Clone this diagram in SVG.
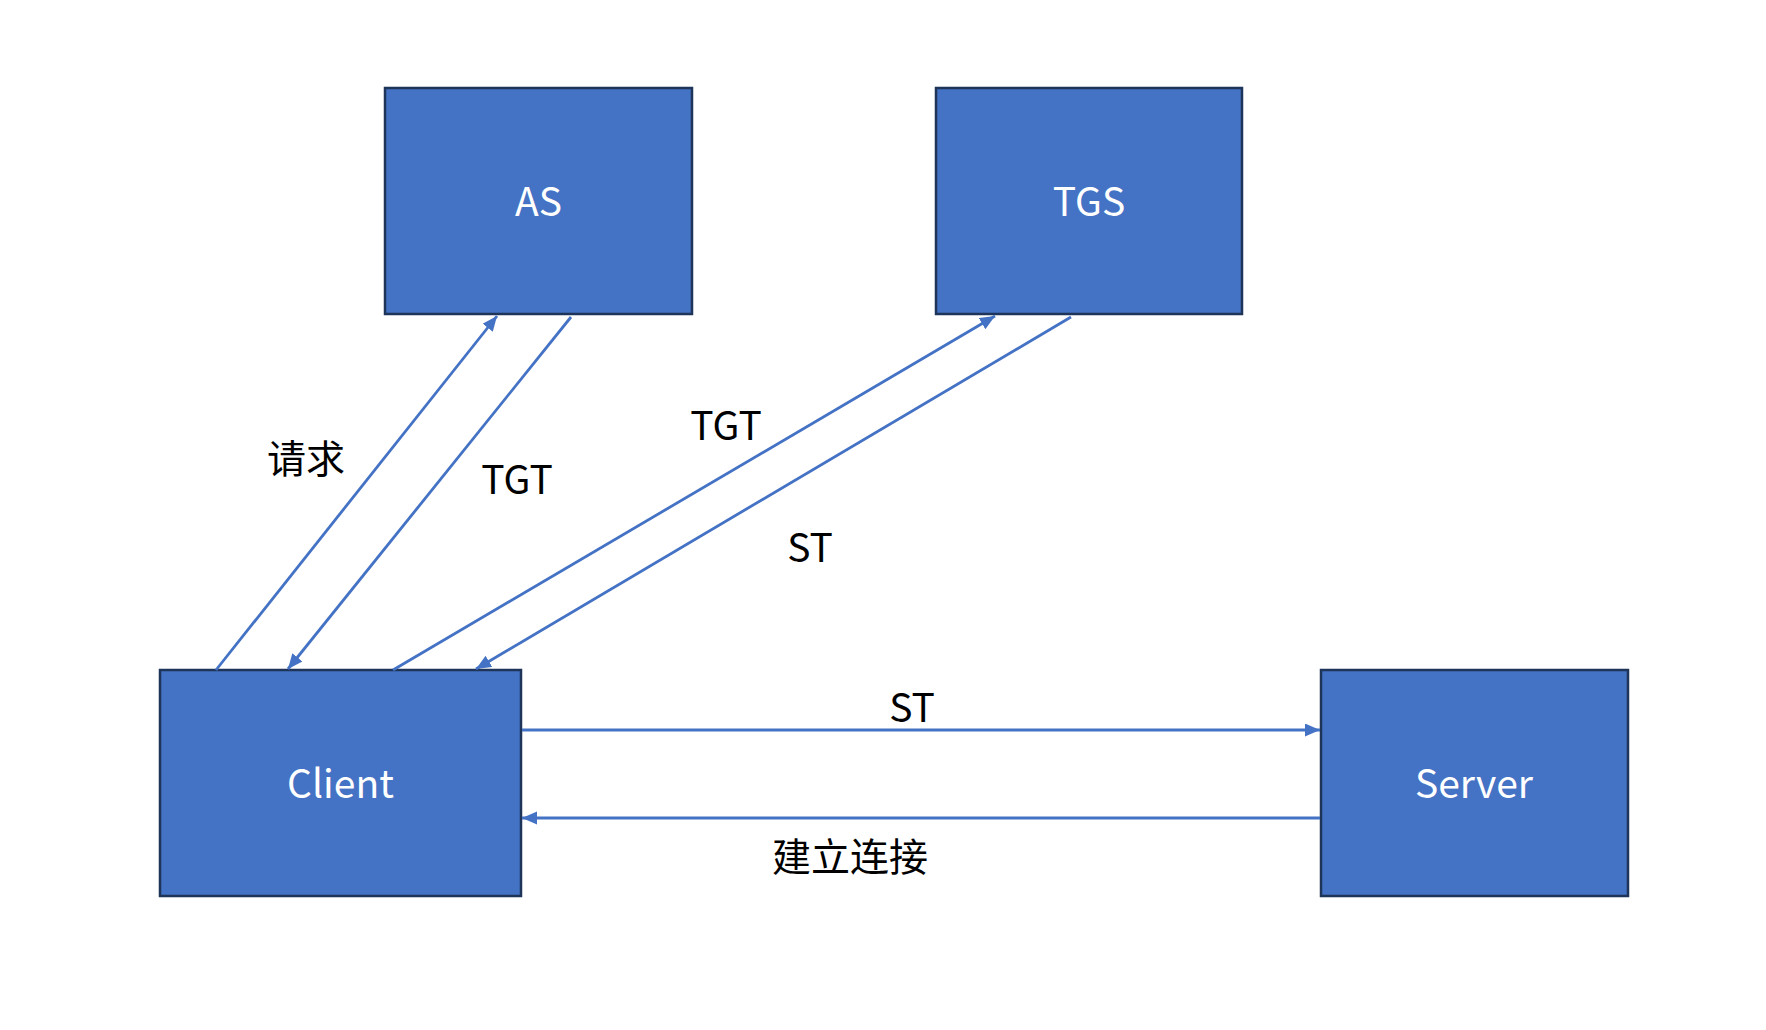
<svg xmlns="http://www.w3.org/2000/svg" width="1766" height="1030" viewBox="0 0 1766 1030">
<style>
.box{fill:#4472C4;stroke:#1F3459;stroke-width:2.5}
.lbl{font-family:"Noto Sans CJK SC","Noto Sans",sans-serif;font-size:39px;fill:#FFFFFF;text-anchor:middle}
.edge{stroke:#4472C4;stroke-width:2.8;fill:none}
.etxt{font-family:"Noto Sans CJK SC","Noto Sans",sans-serif;font-size:39px;fill:#000000;text-anchor:middle}
</style>
<defs>
<marker id="ah" markerUnits="userSpaceOnUse" markerWidth="16" markerHeight="14" refX="15" refY="6.5" orient="auto">
<path d="M0,0 L15,6.5 L0,13 z" fill="#4472C4"/>
</marker>
</defs>
<rect width="1766" height="1030" fill="#FFFFFF"/>
<g id="AS"><rect class="box" x="385" y="88" width="307" height="226"/><text class="lbl" x="538.5" y="216">AS</text></g>
<g id="TGS"><rect class="box" x="936" y="88" width="306" height="226"/><text class="lbl" x="1089" y="216">TGS</text></g>
<g id="Client"><rect class="box" x="160" y="670" width="361" height="226"/><text class="lbl" x="340.5" y="798">Client</text></g>
<g id="Server"><rect class="box" x="1321" y="670" width="307" height="226"/><text class="lbl" x="1474" y="798">Server</text></g>
<g id="connectors">
<line class="edge" x1="216" y1="670" x2="497" y2="316" marker-end="url(#ah)"/>
<line class="edge" x1="571" y1="317" x2="288" y2="669" marker-end="url(#ah)"/>
<line class="edge" x1="393" y1="670" x2="995" y2="316" marker-end="url(#ah)"/>
<line class="edge" x1="1071" y1="317" x2="476" y2="669" marker-end="url(#ah)"/>
<line class="edge" x1="522" y1="730" x2="1320" y2="730" marker-end="url(#ah)"/>
<line class="edge" x1="1320" y1="818" x2="522" y2="818" marker-end="url(#ah)"/>
<text class="etxt" x="306" y="473">请求</text>
<text class="etxt" x="517" y="494">TGT</text>
<text class="etxt" x="726" y="440">TGT</text>
<text class="etxt" x="810" y="562">ST</text>
<text class="etxt" x="912" y="722">ST</text>
<text class="etxt" x="850" y="871">建立连接</text>
</g>
</svg>
